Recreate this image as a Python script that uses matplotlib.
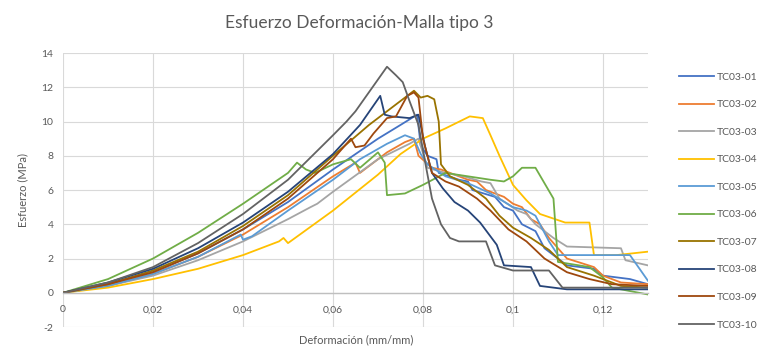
import matplotlib
matplotlib.use("Agg")
import matplotlib.pyplot as plt
from matplotlib.ticker import FuncFormatter, MultipleLocator

plt.rcParams["font.family"] = ["Lato", "DejaVu Sans"]

# stress-strain curves, strain (mm/mm) vs stress (MPa)
labels = ["TC03-01", "TC03-02", "TC03-03", "TC03-04", "TC03-05",
          "TC03-06", "TC03-07", "TC03-08", "TC03-09", "TC03-10"]
colors = ["#4472C4", "#ED7D31", "#A5A5A5", "#FFC000", "#5B9BD5",
          "#70AD47", "#997300", "#264478", "#9E480E", "#636363"]

x01 = [0, 0.01, 0.02, 0.03, 0.04, 0.05, 0.06, 0.07, 0.075, 0.0787, 0.0795, 0.081, 0.083,
       0.0835, 0.088, 0.09, 0.091, 0.096, 0.098, 0.1, 0.102, 0.105, 0.107, 0.11, 0.112,
       0.118, 0.12, 0.126, 0.13]
y01 = [0, 0.5, 1.2, 2.3, 3.7, 5.3, 7.2, 9.0, 9.8, 10.4, 8.6, 8.0, 7.8,
       7.0, 6.6, 6.5, 6.0, 5.6, 5.0, 4.8, 4.0, 3.6, 2.6, 2.0, 1.6,
       1.4, 1.0, 0.8, 0.5]

x02 = [0, 0.01, 0.02, 0.03, 0.04, 0.05, 0.06, 0.065, 0.066, 0.072, 0.076, 0.078, 0.079,
       0.082, 0.084, 0.086, 0.09, 0.092, 0.094, 0.098, 0.1, 0.102, 0.104, 0.106, 0.108,
       0.11, 0.112, 0.118, 0.12, 0.124, 0.13]
y02 = [0, 0.4, 1.1, 2.1, 3.4, 5.0, 6.8, 7.6, 7.0, 8.2, 8.8, 9.0, 8.0,
       7.3, 7.2, 7.0, 6.6, 6.5, 6.0, 5.6, 5.2, 5.0, 4.3, 4.0, 3.2,
       2.6, 2.0, 1.5, 1.0, 0.6, 0.5]

x03 = [0, 0.01, 0.02, 0.03, 0.04, 0.05, 0.055, 0.0565, 0.06, 0.07, 0.077, 0.079, 0.081,
       0.085, 0.089, 0.093, 0.095, 0.097, 0.101, 0.103, 0.105, 0.109, 0.112, 0.124, 0.125,
       0.13]
y03 = [0, 0.4, 1.0, 1.9, 3.0, 4.3, 5.0, 5.2, 5.9, 7.8, 8.7, 9.0, 7.3,
       7.0, 6.8, 6.5, 6.4, 5.5, 4.8, 4.6, 4.0, 3.2, 2.7, 2.6, 1.9,
       1.6]

x04 = [0, 0.01, 0.02, 0.03, 0.04, 0.048, 0.049, 0.05, 0.06, 0.07, 0.075, 0.08, 0.085,
       0.0904, 0.0933, 0.095, 0.097, 0.1, 0.103, 0.106, 0.1116, 0.117, 0.118, 0.123, 0.13]
y04 = [0, 0.3, 0.8, 1.4, 2.2, 3.0, 3.2, 2.9, 4.8, 6.9, 8.1, 9.0, 9.6,
       10.3, 10.2, 9.2, 8.0, 6.3, 5.4, 4.6, 4.1, 4.1, 2.2, 2.2, 2.4]

x05 = [0, 0.01, 0.02, 0.03, 0.0395, 0.04, 0.042, 0.05, 0.06, 0.066, 0.072, 0.076, 0.078,
       0.0795, 0.081, 0.085, 0.09, 0.095, 0.1, 0.103, 0.105, 0.108, 0.11, 0.126, 0.13]
y05 = [0, 0.4, 1.1, 2.1, 3.4, 3.1, 3.3, 4.8, 6.6, 7.8, 8.7, 9.2, 9.0,
       8.1, 7.5, 6.8, 6.4, 5.8, 5.0, 4.8, 4.5, 3.0, 2.2, 2.2, 0.7]

x06 = [0, 0.01, 0.02, 0.03, 0.04, 0.05, 0.052, 0.054, 0.056, 0.06, 0.064, 0.066, 0.07,
       0.0715, 0.072, 0.076, 0.08, 0.085, 0.09, 0.095, 0.098, 0.1, 0.102, 0.105, 0.109,
       0.11, 0.117, 0.12, 0.122, 0.13]
y06 = [0, 0.8, 2.0, 3.5, 5.2, 7.0, 7.6, 7.2, 7.0, 7.5, 7.8, 7.3, 8.2,
       7.6, 5.7, 5.8, 6.3, 7.0, 6.8, 6.6, 6.5, 6.8, 7.3, 7.3, 5.5,
       1.8, 1.5, 0.9, 0.3, -0.1]

x07 = [0, 0.01, 0.02, 0.03, 0.04, 0.05, 0.06, 0.068, 0.074, 0.078, 0.0795, 0.081, 0.0825,
       0.0835, 0.084, 0.086, 0.09, 0.094, 0.097, 0.1, 0.104, 0.108, 0.112, 0.118, 0.124, 0.13]
y07 = [0, 0.5, 1.3, 2.4, 3.9, 5.7, 8.0, 9.8, 11.0, 11.8, 11.4, 11.5, 11.3,
       10.0, 7.5, 6.8, 6.3, 5.5, 4.5, 3.8, 3.2, 2.5, 1.5, 1.0, 0.4, 0.3]

x08 = [0, 0.01, 0.02, 0.03, 0.04, 0.05, 0.06, 0.066, 0.0705, 0.0715, 0.073, 0.077, 0.079,
       0.0805, 0.082, 0.0844, 0.087, 0.09, 0.0927, 0.0964, 0.098, 0.104, 0.106, 0.112, 0.13]
y08 = [0, 0.6, 1.4, 2.6, 4.1, 5.9, 8.1, 9.8, 11.5, 10.4, 10.3, 10.2, 10.4,
       8.5, 7.0, 6.1, 5.3, 4.8, 4.1, 2.8, 1.6, 1.5, 0.4, 0.2, 0.2]

x09 = [0, 0.01, 0.02, 0.03, 0.04, 0.05, 0.06, 0.064, 0.065, 0.067, 0.069, 0.072, 0.074,
       0.0765, 0.078, 0.079, 0.08, 0.082, 0.085, 0.088, 0.092, 0.095, 0.099, 0.103, 0.107,
       0.112, 0.117, 0.122, 0.13]
y09 = [0, 0.5, 1.2, 2.3, 3.7, 5.5, 7.8, 9.0, 8.5, 8.6, 9.3, 10.2, 10.3,
       11.5, 11.7, 11.4, 9.0, 7.0, 6.5, 6.2, 5.5, 4.8, 3.7, 3.0, 2.0,
       1.2, 0.8, 0.5, 0.4]

x10 = [0, 0.01, 0.02, 0.03, 0.04, 0.05, 0.06, 0.063, 0.065, 0.072, 0.074, 0.0755, 0.077,
       0.079, 0.0805, 0.082, 0.084, 0.086, 0.088, 0.094, 0.096, 0.1, 0.108, 0.111, 0.13]
y10 = [0, 0.6, 1.5, 2.9, 4.6, 6.6, 9.2, 10.0, 10.6, 13.2, 12.7, 12.3, 11.2,
       9.8, 7.6, 5.5, 4.0, 3.2, 3.0, 3.0, 1.6, 1.3, 1.3, 0.3, 0.3]

series_x = [x01, x02, x03, x04, x05, x06, x07, x08, x09, x10]
series_y = [y01, y02, y03, y04, y05, y06, y07, y08, y09, y10]

text_color = "#595959"
grid_color = "#D9D9D9"

fig = plt.figure(figsize=(7.65, 3.49), dpi=100)
ax = fig.add_axes([0.0824, 0.063, 0.7646, 0.785])

for xs, ys, lab, col in zip(series_x, series_y, labels, colors):
    ax.plot(xs, ys, color=col, lw=1.3, label=lab, solid_joinstyle="round")

ax.set_xlim(0, 0.13)
ax.set_ylim(-2, 14)
ax.xaxis.set_major_locator(MultipleLocator(0.02))
ax.yaxis.set_major_locator(MultipleLocator(2))
ax.xaxis.set_major_formatter(FuncFormatter(lambda v, p: "0" if abs(v) < 1e-9 else f"{v:.2f}".rstrip("0").replace(".", ",")))
ax.yaxis.set_major_formatter(FuncFormatter(lambda v, p: f"{v:.0f}"))

ax.grid(True, color=grid_color, lw=0.8)
ax.set_axisbelow(True)
for side in ["top", "right", "left"]:
    ax.spines[side].set_visible(False)
ax.spines["bottom"].set_position(("data", 0))
ax.spines["bottom"].set_color("#BFBFBF")
ax.spines["bottom"].set_linewidth(1.0)
ax.tick_params(axis="both", length=0, labelsize=7.5, labelcolor=text_color)
ax.tick_params(axis="x", pad=9)
ax.tick_params(axis="y", pad=7)

fig.text(0.47, 0.935, "Esfuerzo Deformación-Malla tipo 3", ha="center", va="center",
         fontsize=12.5, color=text_color)
fig.text(0.465, 0.025, "Deformación (mm/mm)", ha="center", va="center",
         fontsize=8, color=text_color)
fig.text(0.03, 0.455, "Esfuerzo (MPa)", ha="center", va="center", rotation=90,
         fontsize=8, color=text_color)

fig.legend(loc="center left", bbox_to_anchor=(0.875, 0.424), frameon=False,
           fontsize=7.5, labelcolor=text_color, handlelength=3.4, handletextpad=0.25,
           labelspacing=1.75)

fig.savefig("out.png", dpi=100)
